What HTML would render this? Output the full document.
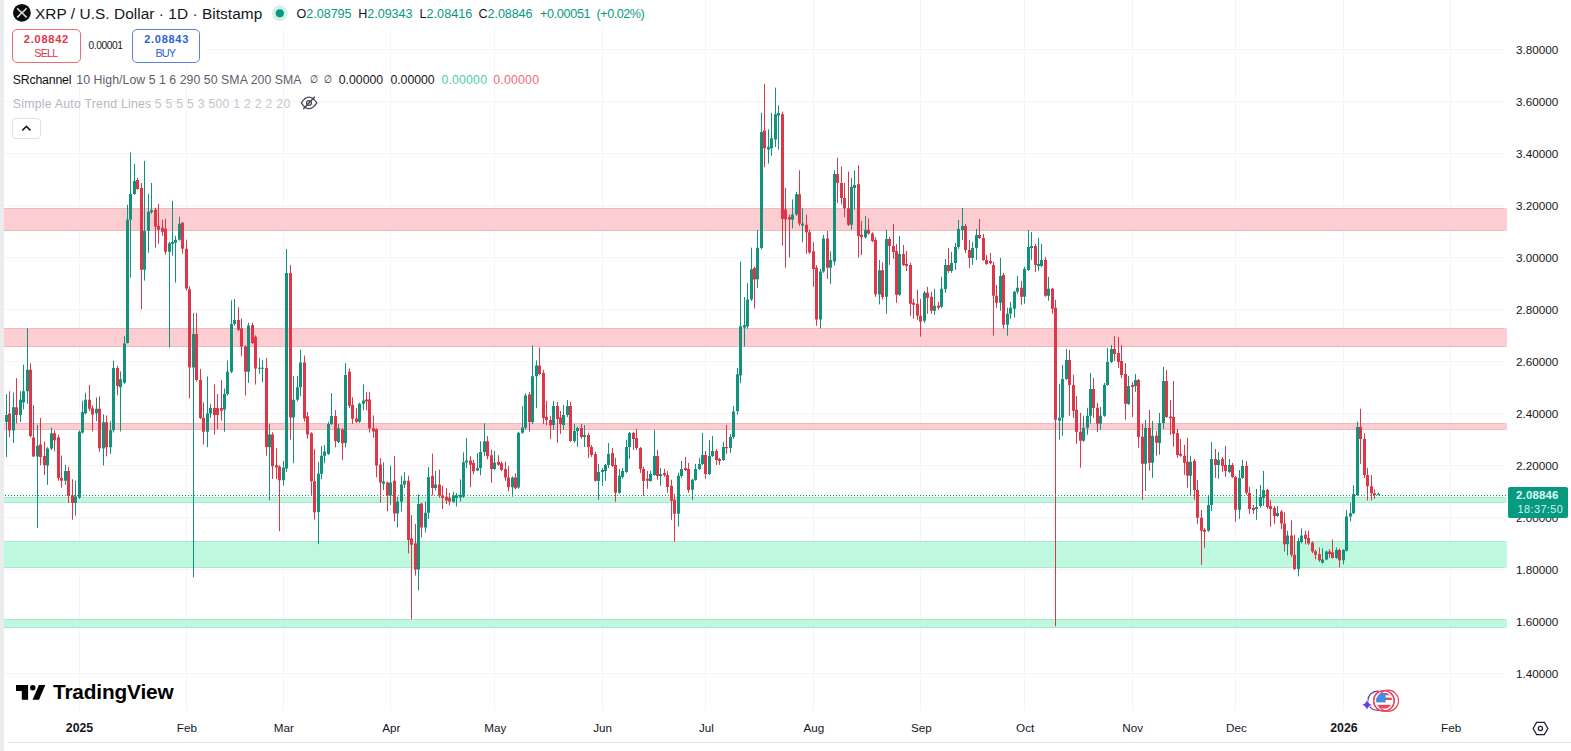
<!DOCTYPE html>
<html lang="en"><head><meta charset="utf-8"><title>XRP / U.S. Dollar</title>
<style>
html,body{margin:0;padding:0;background:#fff;}
body{width:1571px;height:751px;position:relative;overflow:hidden;font-family:"Liberation Sans",sans-serif;color:#131722;}
.t{position:absolute;white-space:nowrap;line-height:1;}
.ax{font-size:11.7px;color:#131722;}
.leftbar{position:absolute;left:0;top:0;width:3.6px;height:751px;background:#ebeced;}
.mask{position:absolute;background:#fff;}
</style></head><body>
<svg width="1571" height="751" viewBox="0 0 1571 751" style="position:absolute;left:0;top:0">
<path d="M79.5 0V711M186.5 0V711M283.5 0V711M390.5 0V711M494.5 0V711M602.5 0V711M705.5 0V711M813.5 0V711M920.5 0V711M1024.5 0V711M1132.5 0V711M1235.5 0V711M1343.5 0V711M1450.5 0V711M4 49.5H1504M4 101.5H1504M4 153.5H1504M4 205.5H1504M4 257.5H1504M4 309.5H1504M4 361.5H1504M4 413.5H1504M4 465.5H1504M4 517.5H1504M4 569.5H1504M4 621.5H1504M4 673.5H1504" stroke="#f4f5f7" stroke-width="1" fill="none"/>
<rect x="4" y="208" width="1503" height="23" fill="#fccdd1"/>
<path d="M4 208.5H1504.5M4 230.5H1504.5" stroke="#ecb9bf" stroke-width="1" fill="none"/>
<rect x="4" y="328" width="1503" height="19" fill="#fccdd1"/>
<path d="M4 328.5H1504.5M4 346.5H1504.5" stroke="#ecb9bf" stroke-width="1" fill="none"/>
<rect x="4" y="423" width="1503" height="7" fill="#fccdd1"/>
<path d="M4 423.5H1504.5M4 429.5H1504.5" stroke="#ecb9bf" stroke-width="1" fill="none"/>
<rect x="4" y="497" width="1503" height="6" fill="#bef8df"/>
<path d="M4 497.5H1504.5M4 502.5H1504.5" stroke="#aee6cf" stroke-width="1" fill="none"/>
<rect x="4" y="541" width="1503" height="27" fill="#bef8df"/>
<path d="M4 541.5H1504.5M4 567.5H1504.5" stroke="#aee6cf" stroke-width="1" fill="none"/>
<rect x="4" y="619" width="1503" height="9" fill="#bef8df"/>
<path d="M4 619.5H1504.5M4 627.5H1504.5" stroke="#aee6cf" stroke-width="1" fill="none"/>
<path d="M5 495.5H1506" stroke="#12927c" stroke-width="1" stroke-dasharray="1 2" fill="none"/>
<!--CANDLES-->
<path d="M6.5 394.1V456.9M13.5 392.7V443.0M20.5 391.3V422.0M23.5 364.7V409.4M27.5 328.4V403.8M37.5 424.8V528.2M47.5 447.2V484.9M51.5 427.6V450.0M65.5 464.8V484.9M75.5 480.7V515.6M79.5 430.4V498.9M82.5 400.8V433.7M85.5 392.9V414.4M96.5 397.4V421.2M103.5 414.4V465.4M110.5 421.2V454.1M113.5 360.7V432.5M120.5 371.4V431.4M124.5 336.2V383.8M127.5 204.8V343.5M130.5 152.4V277.6M134.5 163.9V194.9M144.5 160.9V280.6M148.5 193.9V252.7M151.5 182.9V213.8M169.5 241.7V347.5M172.5 200.8V255.7M175.5 235.8V282.6M179.5 216.8V240.7M193.5 312.9V577.3M207.5 376.4V447.2M210.5 403.8V417.8M224.5 388.5V431.8M227.5 360.5V395.5M231.5 300.3V373.1M234.5 299.0V325.5M248.5 322.7V382.9M259.5 357.9V373.9M262.5 359.9V382.4M269.5 423.8V500.4M283.5 461.0V485.5M286.5 249.1V471.7M293.5 376.0V463.2M297.5 376.0V401.4M300.5 349.8V396.3M318.5 462.1V544.1M321.5 446.1V479.1M324.5 445.1V463.2M328.5 421.8V454.9M331.5 393.1V425.0M338.5 424.0V443.2M345.5 363.2V447.4M359.5 402.7V422.9M363.5 384.5V410.1M383.5 462.4V490.1M390.5 465.6V505.0M397.5 496.7V527.5M401.5 475.7V511.5M404.5 472.1V488.1M418.5 494.2V590.4M425.5 501.6V532.5M428.5 467.1V518.9M435.5 470.8V490.5M453.5 491.8V502.9M456.5 493.0V506.6M460.5 479.4V501.6M463.5 452.3V497.9M466.5 438.1V468.0M477.5 453.0V471.2M480.5 441.3V475.4M484.5 423.2V456.2M494.5 450.9V470.1M512.5 476.5V496.7M518.5 431.7V488.6M522.5 406.1V433.8M525.5 393.3V429.6M532.5 345.3V424.2M536.5 360.3V408.2M553.5 401.0V429.9M563.5 405.0V429.9M567.5 400.0V417.0M574.5 424.0V442.9M577.5 426.9V446.9M584.5 425.0V446.9M598.5 463.9V499.8M602.5 467.9V485.8M605.5 463.9V480.8M608.5 442.9V467.9M619.5 468.9V493.8M622.5 467.9V478.8M626.5 439.9V472.9M629.5 431.9V458.9M650.5 470.9V481.8M654.5 429.9V475.8M660.5 467.9V485.8M678.5 472.9V526.7M681.5 460.9V477.8M692.5 478.8V499.8M695.5 463.9V480.8M699.5 457.9V469.9M702.5 432.9V464.9M709.5 439.9V474.9M712.5 435.9V456.9M723.5 441.9V460.9M730.5 433.9V452.9M733.5 406.0V438.9M737.5 368.0V414.8M740.5 261.6V383.2M744.5 297.1V346.5M747.5 283.2V328.7M751.5 247.7V300.9M757.5 230.0V288.2M761.5 112.9V249.4M768.5 129.3V163.5M771.5 112.9V155.9M775.5 87.6V147.0M778.5 105.3V149.6M792.5 199.4V228.5M796.5 191.8V215.8M802.5 208.2V242.4M820.5 269.0V328.5M823.5 234.8V272.8M830.5 251.3V284.2M834.5 170.3V265.2M851.5 177.8V229.7M854.5 170.3V209.5M865.5 215.8V238.6M879.5 260.1V304.4M886.5 229.9V313.8M899.5 235.9V295.8M924.5 290.8V322.8M934.5 288.8V314.8M941.5 276.8V307.8M945.5 258.9V292.8M951.5 251.9V272.9M955.5 242.9V269.9M958.5 220.0V248.9M962.5 208.0V239.9M972.5 241.9V264.9M976.5 228.9V259.9M1000.5 257.9V310.8M1007.5 307.8V335.7M1010.5 301.8V318.8M1014.5 290.8V317.8M1017.5 275.9V293.8M1024.5 266.9V303.8M1028.5 230.0V270.9M1031.5 232.0V259.9M1038.5 237.9V270.9M1041.5 243.9V266.9M1048.5 276.9V300.8M1059.5 383.9V439.8M1062.5 364.9V435.8M1066.5 349.0V379.9M1083.5 415.8V441.8M1087.5 407.8V434.8M1090.5 372.9V423.8M1100.5 406.8V429.8M1104.5 382.9V416.8M1107.5 348.0V385.9M1111.5 345.0V362.9M1128.5 375.9V404.9M1135.5 374.0V391.9M1145.5 419.9V490.7M1152.5 420.9V477.8M1159.5 412.9V454.8M1163.5 367.0V428.9M1190.5 455.8V494.7M1208.5 495.9V531.8M1211.5 442.0V510.9M1218.5 452.0V478.9M1229.5 459.0V472.9M1239.5 469.9V518.8M1242.5 460.0V478.9M1256.5 488.9V519.8M1260.5 484.9V507.9M1263.5 470.9V505.9M1277.5 505.9V516.8M1287.5 530.7V555.5M1298.5 537.9V576.3M1301.5 528.3V543.5M1322.5 548.3V563.5M1326.5 550.7V560.3M1336.5 547.5V558.7M1343.5 549.1V564.3M1346.5 510.0V551.5M1350.5 502.8V521.2M1353.5 485.2V514.0M1357.5 421.5V495.7M1378.5 492.5V495.4" stroke="#12927c" stroke-width="1" fill="none"/>
<path d="M9.5 391.3V437.4M16.5 378.1V423.4M30.5 363.3V437.4M33.5 405.2V456.9M40.5 417.8V465.3M44.5 441.6V475.1M54.5 430.4V451.4M58.5 434.6V480.7M61.5 455.6V487.7M68.5 466.7V503.1M72.5 479.3V519.8M89.5 385.0V411.0M92.5 405.3V431.4M99.5 396.3V451.8M106.5 415.5V456.3M117.5 365.7V395.2M137.5 177.9V189.9M141.5 182.9V309.2M155.5 207.8V247.7M158.5 203.8V243.7M162.5 219.8V235.8M165.5 218.8V254.7M182.5 221.8V253.7M186.5 239.7V290.6M189.5 286.4V398.3M196.5 312.9V381.5M200.5 368.9V419.2M203.5 402.4V444.4M214.5 384.3V434.6M217.5 394.1V429.0M221.5 380.1V420.6M238.5 307.3V331.1M241.5 318.5V356.3M245.5 345.1V395.5M252.5 322.7V344.0M255.5 335.3V384.5M266.5 357.9V455.7M272.5 432.3V479.1M276.5 448.2V479.1M279.5 465.3V531.3M290.5 264.9V439.7M304.5 355.6V421.6M307.5 412.0V438.7M311.5 432.3V495.1M314.5 449.3V519.6M335.5 410.1V447.4M342.5 428.2V460.2M349.5 368.5V408.0M352.5 397.3V424.0M356.5 408.0V422.9M366.5 392.0V410.1M369.5 392.0V432.5M373.5 415.4V437.8M376.5 428.2V477.3M380.5 458.1V502.9M387.5 481.6V511.4M394.5 456.0V521.4M408.5 475.7V553.4M411.5 515.2V619.5M415.5 523.8V575.6M421.5 502.9V537.4M432.5 453.6V495.5M439.5 469.6V497.9M442.5 485.6V509.0M446.5 488.1V504.1M449.5 493.0V505.3M470.5 456.2V487.2M473.5 459.9V474.4M487.5 436.0V459.4M491.5 449.8V482.9M498.5 455.2V465.8M501.5 461.6V471.2M505.5 461.6V480.8M508.5 465.8V491.4M515.5 473.3V489.3M529.5 392.2V431.7M539.5 347.5V375.2M543.5 369.9V424.2M546.5 400.8V425.3M550.5 415.7V439.2M557.5 402.0V442.9M560.5 411.0V433.9M570.5 402.0V441.9M581.5 424.0V438.9M588.5 432.9V457.9M591.5 444.9V456.9M595.5 451.9V481.8M612.5 447.9V466.9M615.5 457.9V501.8M633.5 431.9V449.9M636.5 428.9V449.9M640.5 446.9V472.9M643.5 466.9V495.8M647.5 470.9V488.8M657.5 449.9V479.8M664.5 468.9V476.8M667.5 470.9V492.8M671.5 479.8V519.8M674.5 493.8V541.7M685.5 456.9V470.9M688.5 462.9V492.8M705.5 450.9V478.8M716.5 448.9V464.9M719.5 457.9V464.9M726.5 425.0V453.9M754.5 266.7V308.5M764.5 83.8V167.2M782.5 111.6V245.6M785.5 188.0V267.7M789.5 214.6V257.6M799.5 170.3V225.9M806.5 214.6V253.8M809.5 229.7V253.8M813.5 242.4V286.7M816.5 265.2V325.9M827.5 231.0V279.1M837.5 157.6V203.2M841.5 166.5V204.4M844.5 182.9V217.1M848.5 171.5V225.9M858.5 165.2V257.6M861.5 220.9V255.1M868.5 218.4V234.8M872.5 232.3V242.4M875.5 237.3V296.8M882.5 262.7V299.4M889.5 236.9V264.9M893.5 224.0V258.9M896.5 243.9V302.8M903.5 244.9V265.9M906.5 250.9V270.9M910.5 262.9V315.8M913.5 298.8V318.8M917.5 289.8V319.8M920.5 298.8V336.7M927.5 286.8V313.8M931.5 291.8V313.8M938.5 301.8V309.8M948.5 247.9V272.9M965.5 224.0V252.9M969.5 239.9V267.9M979.5 219.0V238.9M983.5 234.0V260.9M986.5 254.9V264.9M990.5 252.9V264.3M993.5 261.9V335.7M996.5 284.9V307.8M1003.5 272.9V328.8M1021.5 280.9V304.8M1035.5 243.9V271.9M1045.5 256.9V296.8M1052.5 287.8V313.8M1055.5 299.9V626.2M1069.5 350.0V415.8M1073.5 374.9V417.8M1076.5 395.9V443.8M1080.5 412.8V467.7M1093.5 377.9V417.8M1097.5 402.9V431.8M1114.5 336.0V360.9M1118.5 337.0V367.9M1121.5 345.0V377.9M1125.5 362.9V419.8M1132.5 382.0V416.9M1138.5 379.0V447.8M1142.5 423.9V499.7M1149.5 409.9V470.8M1156.5 430.9V455.8M1166.5 370.0V417.9M1170.5 399.9V434.9M1173.5 381.0V446.8M1177.5 428.9V457.8M1180.5 438.8V456.8M1184.5 444.8V474.8M1187.5 437.8V487.7M1194.5 459.0V499.9M1197.5 479.9V523.8M1201.5 509.9V564.8M1204.5 527.8V547.8M1215.5 449.0V477.9M1222.5 457.0V471.9M1225.5 446.0V476.9M1232.5 463.0V477.9M1235.5 475.9V521.8M1246.5 461.0V494.9M1249.5 486.9V513.9M1253.5 504.9V513.9M1267.5 488.9V508.9M1270.5 499.9V526.8M1274.5 505.9V523.8M1281.5 510.0V529.1M1284.5 512.4V551.5M1291.5 520.4V557.1M1294.5 534.7V569.9M1305.5 530.7V544.3M1308.5 530.7V545.1M1312.5 541.1V553.1M1315.5 549.9V559.5M1319.5 547.5V561.9M1329.5 549.1V557.9M1332.5 539.5V558.7M1339.5 548.3V567.5M1360.5 408.8V463.8M1364.5 433.5V478.2M1367.5 467.8V500.5M1371.5 475.0V500.5M1374.5 489.4V498.9" stroke="#de3649" stroke-width="1" fill="none"/>
<path d="M5 415.0h3v7.0h-3zM12 407.2h3v23.2h-3zM19 399.7h3v15.4h-3zM22 391.3h3v11.2h-3zM26 369.7h3v21.5h-3zM36 445.8h3v10.6h-3zM46 448.6h3v16.8h-3zM50 433.2h3v15.4h-3zM64 470.9h3v9.8h-3zM74 496.6h3v6.4h-3zM78 431.8h3v65.7h-3zM81 412.1h3v20.4h-3zM84 399.7h3v13.6h-3zM95 408.7h3v4.5h-3zM102 422.3h3v26.1h-3zM109 430.3h3v17.0h-3zM112 368.0h3v62.3h-3zM119 379.3h3v7.9h-3zM123 343.5h3v39.2h-3zM126 219.8h3v123.1h-3zM129 193.9h3v25.9h-3zM133 180.9h3v13.0h-3zM143 230.8h3v38.9h-3zM147 211.8h3v19.0h-3zM150 210.2h3v2.0h-3zM168 243.3h3v8.4h-3zM171 242.1h3v1.6h-3zM174 239.7h3v3.0h-3zM178 223.8h3v16.0h-3zM192 333.9h3v33.6h-3zM206 413.6h3v18.2h-3zM209 408.0h3v5.6h-3zM223 394.1h3v15.4h-3zM226 371.7h3v22.4h-3zM230 324.1h3v47.6h-3zM233 319.9h3v4.2h-3zM247 325.5h3v46.2h-3zM258 367.7h3v1.1h-3zM261 367.7h3v1.1h-3zM268 434.4h3v12.8h-3zM282 467.4h3v12.8h-3zM285 273.0h3v195.5h-3zM292 399.7h3v17.7h-3zM296 387.3h3v12.4h-3zM299 362.4h3v24.9h-3zM317 473.8h3v38.3h-3zM320 455.7h3v18.1h-3zM323 451.4h3v4.3h-3zM327 424.0h3v29.9h-3zM330 415.9h3v8.1h-3zM337 428.2h3v13.9h-3zM344 374.9h3v68.2h-3zM358 403.7h3v18.1h-3zM362 400.5h3v3.2h-3zM382 481.6h3v2.1h-3zM389 482.6h3v12.8h-3zM396 501.6h3v11.8h-3zM400 484.4h3v17.3h-3zM403 480.7h3v3.7h-3zM417 504.1h3v65.3h-3zM424 512.7h3v14.8h-3zM427 477.0h3v35.7h-3zM434 484.4h3v3.7h-3zM452 495.5h3v6.2h-3zM455 495.5h3v2.5h-3zM459 494.7h3v2.5h-3zM462 462.2h3v34.5h-3zM465 460.5h3v2.1h-3zM476 468.0h3v2.6h-3zM479 452.0h3v16.0h-3zM483 441.3h3v10.7h-3zM493 462.6h3v6.4h-3zM511 477.6h3v9.6h-3zM517 432.8h3v54.8h-3zM521 427.4h3v5.3h-3zM524 395.4h3v32.4h-3zM531 376.3h3v45.9h-3zM535 365.6h3v10.7h-3zM552 406.0h3v19.0h-3zM562 415.0h3v10.0h-3zM566 406.0h3v9.0h-3zM573 430.9h3v10.0h-3zM576 427.9h3v3.0h-3zM583 434.9h3v2.0h-3zM597 471.9h3v9.0h-3zM601 469.9h3v2.0h-3zM604 464.9h3v6.0h-3zM607 453.9h3v11.0h-3zM618 475.8h3v17.0h-3zM621 470.9h3v6.0h-3zM625 446.9h3v25.0h-3zM628 432.9h3v14.0h-3zM649 473.9h3v7.0h-3zM653 455.9h3v19.0h-3zM659 473.9h3v2.0h-3zM677 475.8h3v37.9h-3zM680 468.9h3v7.0h-3zM691 479.8h3v10.0h-3zM694 468.9h3v11.0h-3zM698 463.9h3v5.0h-3zM701 454.9h3v9.0h-3zM708 455.9h3v18.0h-3zM711 450.9h3v5.0h-3zM722 446.9h3v13.0h-3zM729 436.9h3v11.0h-3zM732 411.6h3v25.3h-3zM736 374.3h3v36.7h-3zM739 326.2h3v49.4h-3zM743 324.9h3v2.5h-3zM746 299.6h3v26.6h-3zM750 269.2h3v30.4h-3zM756 247.7h3v31.6h-3zM760 131.9h3v116.2h-3zM767 147.0h3v2.5h-3zM770 138.2h3v10.1h-3zM774 114.2h3v25.3h-3zM777 112.9h3v2.5h-3zM791 214.6h3v5.1h-3zM795 194.3h3v20.3h-3zM801 223.4h3v2.0h-3zM819 271.5h3v48.1h-3zM822 238.6h3v32.9h-3zM829 260.1h3v7.6h-3zM833 174.1h3v87.3h-3zM850 186.7h3v38.0h-3zM853 184.9h3v3.0h-3zM864 229.7h3v7.6h-3zM878 270.3h3v24.1h-3zM885 238.9h3v57.9h-3zM898 253.9h3v40.9h-3zM923 292.8h3v27.9h-3zM933 305.8h3v5.0h-3zM940 288.8h3v18.0h-3zM944 264.9h3v24.0h-3zM950 262.9h3v8.0h-3zM954 246.9h3v16.0h-3zM957 228.9h3v18.0h-3zM961 225.9h3v4.0h-3zM971 247.9h3v10.0h-3zM975 234.9h3v13.0h-3zM999 275.9h3v26.9h-3zM1006 313.8h3v11.0h-3zM1009 307.8h3v6.0h-3zM1013 291.8h3v17.0h-3zM1016 287.8h3v4.0h-3zM1023 268.9h3v27.9h-3zM1027 246.9h3v23.0h-3zM1030 245.9h3v2.0h-3zM1037 263.9h3v2.0h-3zM1040 259.9h3v6.0h-3zM1047 288.8h3v7.0h-3zM1058 417.8h3v3.0h-3zM1061 378.9h3v38.9h-3zM1065 359.9h3v19.0h-3zM1082 427.8h3v13.0h-3zM1086 415.8h3v12.0h-3zM1089 388.9h3v26.9h-3zM1099 415.8h3v8.0h-3zM1103 384.9h3v30.9h-3zM1106 361.9h3v23.0h-3zM1110 349.0h3v13.0h-3zM1127 385.9h3v18.0h-3zM1134 380.0h3v6.0h-3zM1144 427.9h3v35.9h-3zM1151 435.8h3v26.9h-3zM1158 422.9h3v20.0h-3zM1162 381.0h3v41.9h-3zM1189 461.8h3v14.0h-3zM1207 504.9h3v25.9h-3zM1210 459.0h3v45.9h-3zM1217 460.0h3v5.0h-3zM1228 465.0h3v7.0h-3zM1238 477.9h3v31.9h-3zM1241 465.9h3v12.0h-3zM1255 506.9h3v2.0h-3zM1259 496.9h3v9.0h-3zM1262 489.9h3v8.0h-3zM1276 512.9h3v3.0h-3zM1286 535.5h3v8.8h-3zM1297 541.1h3v28.0h-3zM1300 535.5h3v6.4h-3zM1321 559.5h3v3.2h-3zM1325 551.5h3v8.0h-3zM1335 549.9h3v8.0h-3zM1342 549.9h3v10.4h-3zM1345 516.4h3v34.4h-3zM1349 513.2h3v3.2h-3zM1352 494.0h3v19.2h-3zM1356 427.1h3v67.8h-3zM1377 494.1h3v1.0h-3z" fill="#12927c"/>
<path d="M8 413.6h3v16.8h-3zM15 407.2h3v7.8h-3zM29 369.7h3v66.2h-3zM32 437.4h3v19.0h-3zM39 444.4h3v12.6h-3zM43 456.1h3v9.2h-3zM53 433.2h3v7.0h-3zM57 437.4h3v40.5h-3zM60 477.9h3v2.8h-3zM67 470.9h3v25.2h-3zM71 495.5h3v7.5h-3zM88 399.7h3v9.1h-3zM91 408.3h3v6.1h-3zM98 408.7h3v39.6h-3zM105 422.3h3v24.9h-3zM116 368.0h3v18.1h-3zM136 179.9h3v9.0h-3zM140 187.9h3v81.8h-3zM154 209.8h3v17.0h-3zM157 225.8h3v4.0h-3zM161 227.8h3v4.0h-3zM164 228.8h3v22.9h-3zM181 222.8h3v25.9h-3zM185 248.7h3v39.9h-3zM188 289.2h3v78.3h-3zM195 333.9h3v46.2h-3zM199 380.1h3v37.8h-3zM202 417.8h3v14.0h-3zM213 408.0h3v7.0h-3zM216 408.0h3v7.0h-3zM220 408.0h3v2.8h-3zM237 319.9h3v9.8h-3zM240 328.3h3v18.2h-3zM244 346.5h3v25.2h-3zM251 325.0h3v17.9h-3zM254 336.7h3v31.9h-3zM265 367.9h3v79.2h-3zM271 434.4h3v31.9h-3zM275 465.3h3v2.1h-3zM278 466.4h3v13.8h-3zM289 273.0h3v144.4h-3zM303 362.4h3v56.0h-3zM306 416.3h3v18.1h-3zM310 433.3h3v47.9h-3zM313 481.3h3v30.9h-3zM334 415.9h3v25.2h-3zM341 429.3h3v13.9h-3zM348 371.7h3v34.1h-3zM351 404.8h3v13.9h-3zM355 418.6h3v3.2h-3zM365 399.5h3v2.1h-3zM368 399.5h3v28.8h-3zM372 428.2h3v3.2h-3zM375 429.3h3v36.3h-3zM379 464.5h3v18.1h-3zM386 482.6h3v12.8h-3zM393 480.7h3v32.8h-3zM407 480.7h3v59.2h-3zM410 538.6h3v6.2h-3zM414 543.6h3v25.9h-3zM420 503.6h3v23.9h-3zM431 475.7h3v12.3h-3zM438 484.4h3v11.1h-3zM441 495.5h3v2.5h-3zM445 496.7h3v3.7h-3zM448 497.9h3v3.7h-3zM469 460.5h3v4.3h-3zM472 463.1h3v8.1h-3zM486 441.3h3v14.9h-3zM490 455.2h3v13.9h-3zM497 462.0h3v2.8h-3zM500 463.3h3v6.8h-3zM504 469.0h3v8.5h-3zM507 477.6h3v9.6h-3zM514 477.6h3v10.7h-3zM528 394.4h3v27.7h-3zM538 365.6h3v8.5h-3zM542 373.1h3v44.8h-3zM545 416.8h3v3.2h-3zM549 420.0h3v5.3h-3zM556 406.0h3v13.0h-3zM559 417.6h3v6.4h-3zM569 406.0h3v34.9h-3zM580 427.9h3v9.0h-3zM587 434.9h3v12.0h-3zM590 446.9h3v8.0h-3zM594 453.9h3v26.9h-3zM611 452.9h3v13.0h-3zM614 464.9h3v27.9h-3zM632 432.9h3v6.0h-3zM635 437.9h3v10.0h-3zM639 447.9h3v21.0h-3zM642 468.9h3v12.0h-3zM646 478.8h3v2.0h-3zM656 455.9h3v20.0h-3zM663 472.9h3v2.4h-3zM666 474.9h3v12.0h-3zM670 485.8h3v15.0h-3zM673 499.8h3v14.0h-3zM684 467.9h3v2.0h-3zM687 468.9h3v21.0h-3zM704 454.9h3v19.0h-3zM715 450.9h3v9.0h-3zM718 458.9h3v2.0h-3zM725 446.9h3v1.4h-3zM753 268.0h3v11.4h-3zM763 130.6h3v17.7h-3zM781 114.2h3v104.9h-3zM784 209.5h3v10.1h-3zM788 217.1h3v2.5h-3zM798 194.3h3v29.1h-3zM805 224.7h3v7.6h-3zM808 232.3h3v20.3h-3zM812 251.3h3v17.7h-3zM815 267.7h3v51.9h-3zM826 238.6h3v29.1h-3zM836 174.1h3v8.9h-3zM840 182.9h3v15.2h-3zM843 198.1h3v10.1h-3zM847 208.2h3v16.5h-3zM857 184.2h3v51.9h-3zM860 234.8h3v2.5h-3zM867 229.7h3v3.8h-3zM871 233.5h3v7.6h-3zM874 239.9h3v54.4h-3zM881 270.3h3v26.6h-3zM888 238.9h3v7.0h-3zM892 245.9h3v6.0h-3zM895 250.9h3v43.9h-3zM902 253.9h3v11.0h-3zM905 263.9h3v2.0h-3zM909 264.9h3v38.9h-3zM912 302.8h3v2.0h-3zM916 303.8h3v12.0h-3zM919 315.8h3v6.0h-3zM926 292.8h3v5.0h-3zM930 296.8h3v14.0h-3zM937 305.8h3v2.0h-3zM947 264.9h3v6.0h-3zM964 225.9h3v24.0h-3zM968 249.9h3v8.0h-3zM978 235.0h3v3.0h-3zM982 237.9h3v22.0h-3zM985 259.9h3v4.0h-3zM989 260.9h3v2.4h-3zM992 264.9h3v30.9h-3zM995 295.8h3v7.0h-3zM1002 274.9h3v49.9h-3zM1020 287.8h3v9.0h-3zM1034 245.9h3v19.0h-3zM1044 259.9h3v35.9h-3zM1051 288.8h3v20.0h-3zM1054 307.8h3v112.0h-3zM1068 359.9h3v25.0h-3zM1072 384.9h3v25.9h-3zM1075 409.8h3v22.0h-3zM1079 431.8h3v9.0h-3zM1092 388.9h3v19.0h-3zM1096 407.8h3v16.0h-3zM1113 349.0h3v5.0h-3zM1117 353.0h3v9.0h-3zM1120 360.9h3v14.0h-3zM1124 373.9h3v29.9h-3zM1131 385.0h3v2.0h-3zM1137 380.0h3v56.9h-3zM1141 436.8h3v26.9h-3zM1148 427.9h3v34.9h-3zM1155 435.8h3v7.0h-3zM1165 381.0h3v35.9h-3zM1169 416.5h3v1.8h-3zM1172 416.9h3v17.0h-3zM1176 432.9h3v22.0h-3zM1179 453.8h3v2.0h-3zM1183 455.8h3v7.0h-3zM1186 461.8h3v14.0h-3zM1193 461.0h3v28.9h-3zM1196 489.9h3v27.9h-3zM1200 517.8h3v13.0h-3zM1203 529.8h3v2.0h-3zM1214 459.0h3v6.0h-3zM1221 459.0h3v7.0h-3zM1224 465.0h3v6.0h-3zM1231 465.0h3v12.0h-3zM1234 476.9h3v32.9h-3zM1245 465.9h3v26.9h-3zM1248 492.9h3v16.0h-3zM1252 507.9h3v2.0h-3zM1266 489.9h3v17.0h-3zM1269 505.9h3v3.0h-3zM1273 507.9h3v8.0h-3zM1280 511.6h3v12.0h-3zM1283 523.5h3v20.8h-3zM1290 535.5h3v19.2h-3zM1293 554.7h3v14.4h-3zM1304 534.7h3v4.0h-3zM1307 537.9h3v5.6h-3zM1311 542.7h3v8.8h-3zM1314 551.2h3v3.5h-3zM1318 553.9h3v6.4h-3zM1328 551.5h3v2.4h-3zM1331 552.3h3v5.6h-3zM1338 549.9h3v10.4h-3zM1359 427.1h3v12.0h-3zM1363 439.1h3v35.9h-3zM1366 475.0h3v11.2h-3zM1370 486.2h3v7.2h-3zM1373 493.3h3v1.6h-3z" fill="#de3649"/>
</svg>
<div class="leftbar"></div>
<div class="mask" style="left:4px;top:0;width:650px;height:26px"></div>
<div class="mask" style="left:4px;top:26px;width:203px;height:40px"></div>
<div class="t ax" style="left:1516px;top:44.1px">3.80000</div>
<div class="t ax" style="left:1516px;top:96.1px">3.60000</div>
<div class="t ax" style="left:1516px;top:148.1px">3.40000</div>
<div class="t ax" style="left:1516px;top:200.1px">3.20000</div>
<div class="t ax" style="left:1516px;top:252.1px">3.00000</div>
<div class="t ax" style="left:1516px;top:304.1px">2.80000</div>
<div class="t ax" style="left:1516px;top:356.1px">2.60000</div>
<div class="t ax" style="left:1516px;top:408.1px">2.40000</div>
<div class="t ax" style="left:1516px;top:460.1px">2.20000</div>
<div class="t ax" style="left:1516px;top:512.1px">2.00000</div>
<div class="t ax" style="left:1516px;top:564.1px">1.80000</div>
<div class="t ax" style="left:1516px;top:616.1px">1.60000</div>
<div class="t ax" style="left:1516px;top:668.1px">1.40000</div>
<div class="t ax" style="left:49.5px;width:60px;text-align:center;top:722.0px;font-weight:bold;font-size:12.3px">2025</div>
<div class="t ax" style="left:156.9px;width:60px;text-align:center;top:721.8px;font-weight:normal;font-size:11.7px">Feb</div>
<div class="t ax" style="left:253.9px;width:60px;text-align:center;top:721.8px;font-weight:normal;font-size:11.7px">Mar</div>
<div class="t ax" style="left:361.3px;width:60px;text-align:center;top:721.8px;font-weight:normal;font-size:11.7px">Apr</div>
<div class="t ax" style="left:465.2px;width:60px;text-align:center;top:721.8px;font-weight:normal;font-size:11.7px">May</div>
<div class="t ax" style="left:572.6px;width:60px;text-align:center;top:721.8px;font-weight:normal;font-size:11.7px">Jun</div>
<div class="t ax" style="left:676.5px;width:60px;text-align:center;top:721.8px;font-weight:normal;font-size:11.7px">Jul</div>
<div class="t ax" style="left:783.9px;width:60px;text-align:center;top:721.8px;font-weight:normal;font-size:11.7px">Aug</div>
<div class="t ax" style="left:891.3px;width:60px;text-align:center;top:721.8px;font-weight:normal;font-size:11.7px">Sep</div>
<div class="t ax" style="left:995.2px;width:60px;text-align:center;top:721.8px;font-weight:normal;font-size:11.7px">Oct</div>
<div class="t ax" style="left:1102.6px;width:60px;text-align:center;top:721.8px;font-weight:normal;font-size:11.7px">Nov</div>
<div class="t ax" style="left:1206.5px;width:60px;text-align:center;top:721.8px;font-weight:normal;font-size:11.7px">Dec</div>
<div class="t ax" style="left:1313.9px;width:60px;text-align:center;top:722.0px;font-weight:bold;font-size:12.3px">2026</div>
<div class="t ax" style="left:1421.2px;width:60px;text-align:center;top:721.8px;font-weight:normal;font-size:11.7px">Feb</div>
<div style="position:absolute;left:8px;top:742px;width:1563px;height:1px;background:#e1e3e8"></div>
<div style="position:absolute;left:12px;top:29px;width:67px;height:31.5px;border:1px solid #ee6a76;border-radius:5px;background:#fff"></div>
<div style="position:absolute;left:132px;top:29px;width:66px;height:31.5px;border:1px solid #5a82d8;border-radius:5px;background:#fff"></div>
<div style="position:absolute;left:12px;top:118px;width:27px;height:19px;border:1px solid #dfe1e7;border-radius:4px;background:#fff"></div>
<div style="position:absolute;left:1508px;top:487px;width:60px;height:30.5px;background:#089981;border-radius:2px"></div>
<svg width="1571" height="751" viewBox="0 0 1571 751" style="position:absolute;left:0;top:0;pointer-events:none">
<circle cx="21.9" cy="12.8" r="8.9" fill="#0a0a0a"/>
<path d="M17.2 8.2 L19.8 10.9 Q21.9 13.9 24.0 10.9 L26.6 8.2 M17.2 17.4 L19.8 14.7 Q21.9 11.7 24.0 14.7 L26.6 17.4" stroke="#dcdcdc" stroke-width="1.6" fill="none"/>
<circle cx="279.8" cy="13.3" r="8" fill="#d5f0ea"/><circle cx="279.8" cy="13.3" r="4.1" fill="#089981"/>
<g stroke="#434651" stroke-width="1.25" fill="none"><path d="M301.3 102.9 Q305 97.1 309 97.1 Q313 97.1 316.8 102.9 Q313 108.7 309 108.7 Q305 108.7 301.3 102.9Z"/><circle cx="309" cy="102.9" r="2.4"/><path d="M303.3 108.9 L314.8 96.7" stroke-width="1.5"/></g>
<path d="M22.3 130.3 L26.4 126.4 L30.5 130.3" stroke="#1a1d26" stroke-width="1.6" fill="none"/>
<path d="M16 684.9 H28.1 V699.8 H21.8 V690.9 H16 Z" fill="#000"/><circle cx="32.75" cy="687.7" r="2.75" fill="#000"/><path d="M38.9 684.9 H45.3 L39.0 699.8 H32.6 Z" fill="#000"/>
<g stroke="#1e2029" stroke-width="1.25" fill="none"><path d="M1533.1 728.5 L1536.6 722.4 H1544.3 L1547.9 728.5 L1544.3 734.6 H1536.6 Z"/><circle cx="1540.4" cy="728.5" r="2.1"/></g>
<g fill="none" stroke-width="1.2"><circle cx="1377.4" cy="700.8" r="9.6" stroke="#5a3fb5"/><rect x="1379" y="689" width="22" height="24" fill="#fff" stroke="none"/><circle cx="1383.9" cy="700.8" r="10.3" fill="#fff" stroke="#e8495c"/><circle cx="1388" cy="700.8" r="10.6" stroke="#e8495c"/><clipPath id="fc"><circle cx="1384.1" cy="700.8" r="8"/></clipPath><g clip-path="url(#fc)" stroke="none"><rect x="1375" y="692" width="18" height="18" fill="#fff"/><rect x="1375" y="692.8" width="18" height="2.4" fill="#e8495c"/><rect x="1375" y="697.6" width="18" height="2.4" fill="#e8495c"/><rect x="1375" y="702.4" width="18" height="2.2" fill="#fff"/><rect x="1375" y="704.8" width="18" height="4" fill="#e8495c"/><rect x="1375" y="692" width="10.6" height="10.4" fill="#3d8fe8"/></g><circle cx="1383.9" cy="700.8" r="10.3" stroke="#e8495c"/><path d="M1367 699.4 Q1368.1 703.7 1372.4 704.8 Q1368.1 705.9 1367 710.2 Q1365.9 705.9 1361.6 704.8 Q1365.9 703.7 1367 699.4Z" fill="#6a3df0" stroke="#fff" stroke-width="0.6"/></g>
</svg>
<div class="t" style="left:35.0px;top:6.0px;font-size:15.4px;font-weight:normal;color:#131722;letter-spacing:0.054px">XRP / U.S. Dollar · 1D · Bitstamp</div>
<div class="t" style="left:296.6px;top:7.6px;font-size:12.6px;font-weight:normal;color:#131722;letter-spacing:-0.054px">O<span style="color:#089981">2.08795</span></div>
<div class="t" style="left:358.3px;top:7.6px;font-size:12.6px;font-weight:normal;color:#131722;letter-spacing:-0.068px">H<span style="color:#089981">2.09343</span></div>
<div class="t" style="left:419.5px;top:7.6px;font-size:12.6px;font-weight:normal;color:#131722;letter-spacing:0.032px">L<span style="color:#089981">2.08416</span></div>
<div class="t" style="left:478.6px;top:7.6px;font-size:12.6px;font-weight:normal;color:#131722;letter-spacing:-0.105px">C<span style="color:#089981">2.08846</span></div>
<div class="t" style="left:539.9px;top:7.6px;font-size:12.6px;font-weight:normal;color:#089981;letter-spacing:-0.311px">+0.00051</div>
<div class="t" style="left:596.6px;top:7.6px;font-size:12.6px;font-weight:normal;color:#089981;letter-spacing:-0.494px">(+0.02%)</div>
<div class="t" style="left:23.8px;top:33.5px;font-size:11.0px;font-weight:bold;color:#e0364a;letter-spacing:0.776px">2.08842</div>
<div class="t" style="left:34.3px;top:47.8px;font-size:11.0px;font-weight:normal;color:#e0364a;letter-spacing:-0.955px">SELL</div>
<div class="t" style="left:88.5px;top:40.7px;font-size:10.2px;font-weight:normal;color:#131722;letter-spacing:-0.404px">0.00001</div>
<div class="t" style="left:144.2px;top:33.5px;font-size:11.0px;font-weight:bold;color:#2f5fd0;letter-spacing:0.719px">2.08843</div>
<div class="t" style="left:155.4px;top:47.8px;font-size:11.0px;font-weight:normal;color:#2f5fd0;letter-spacing:-0.908px">BUY</div>
<div class="t" style="left:12.8px;top:73.8px;font-size:12.3px;font-weight:normal;color:#0c0e15;letter-spacing:-0.186px">SRchannel</div>
<div class="t" style="left:76.3px;top:73.8px;font-size:12.3px;font-weight:normal;color:#5d606b;letter-spacing:0.049px">10 High/Low 5 1 6 290 50 SMA 200 SMA</div>
<div class="t" style="left:338.7px;top:73.8px;font-size:12.3px;font-weight:normal;color:#131722;letter-spacing:0.007px">0.00000</div>
<div class="t" style="left:390.4px;top:73.8px;font-size:12.3px;font-weight:normal;color:#131722;letter-spacing:-0.022px">0.00000</div>
<div class="t" style="left:441.4px;top:73.8px;font-size:12.3px;font-weight:normal;color:#4dcf9c;letter-spacing:0.192px">0.00000</div>
<div class="t" style="left:493.3px;top:73.8px;font-size:12.3px;font-weight:normal;color:#ef6b76;letter-spacing:0.207px">0.00000</div>
<div class="t" style="left:12.8px;top:97.8px;font-size:12.3px;font-weight:normal;color:#b5b8c0;letter-spacing:0.235px">Simple Auto Trend Lines</div>
<div class="t" style="left:154.7px;top:97.8px;font-size:12.3px;font-weight:normal;color:#c3c6cd;letter-spacing:0.245px">5 5 5 5 3 500 1 2 2 2 20</div>
<div class="t" style="left:53.0px;top:682.3px;font-size:20.8px;font-weight:bold;color:#000;letter-spacing:-0.148px">TradingView</div>
<div class="t" style="left:1516.0px;top:490.2px;font-size:11.4px;font-weight:bold;color:#dffaf3;letter-spacing:0.188px">2.08846</div>
<div class="t" style="left:1517.5px;top:504.4px;font-size:10.9px;font-weight:normal;color:#c8f5ea;letter-spacing:0.424px">18:37:50</div>
<div class="t" style="left:310.2px;top:73.5px;font-size:10.5px;color:#131722;transform:scaleX(0.83);transform-origin:0 0">∅</div>
<div class="t" style="left:324.2px;top:73.5px;font-size:10.5px;color:#131722;transform:scaleX(0.83);transform-origin:0 0">∅</div>

</body></html>
